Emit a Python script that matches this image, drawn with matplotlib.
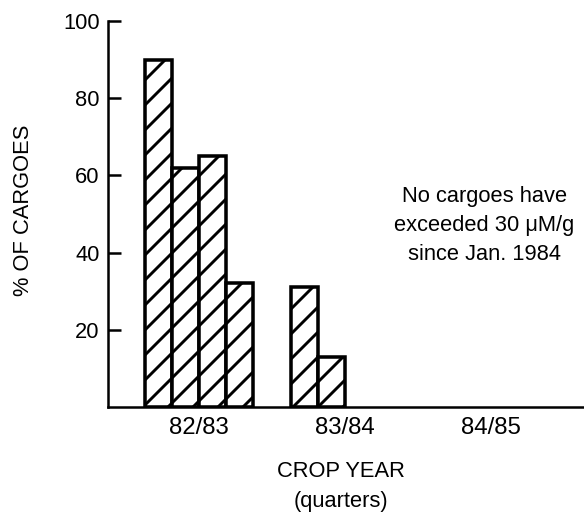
import matplotlib
matplotlib.use("Agg")
import matplotlib.pyplot as plt

# Data
years = ["82/83", "83/84", "84/85"]
quarter_values = [
    [90, 62, 65, 32],   # 82/83
    [31, 13],           # 83/84
    [],                 # 84/85
]
yticks = [20, 40, 60, 80, 100]
ylabel = "% OF CARGOES"
xlabel = "CROP YEAR\n(quarters)"
note = "No cargoes have\nexceeded 30 \u03bcM/g\nsince Jan. 1984"

year_spacing = 5.4

plt.rcParams['font.family'] = ['Liberation Sans', 'DejaVu Sans']
plt.rcParams['hatch.linewidth'] = 1.4

DPI = 150
fig = plt.figure(figsize=(584 / DPI, 515 / DPI), dpi=DPI)
ax = fig.add_axes([108 / 584, 1 - 407 / 515, 1 - 108 / 584, (407 - 21) / 515])

for i, vals in enumerate(quarter_values):
    xs = [i * year_spacing + q for q in range(len(vals))]
    if vals:
        ax.bar(xs, vals, width=1.0, facecolor='white', edgecolor='black',
               linewidth=1.7, hatch='//')

ax.set_xlim(-1.87, 15.76)
ax.set_ylim(0, 100)

ax.set_xticks([i * year_spacing + 1.5 for i in range(len(years))])
ax.set_xticklabels(years, fontsize=11.5)
ax.tick_params(axis='x', length=0, pad=5)

ax.set_yticks(yticks)
ax.set_yticklabels([str(v) for v in yticks], fontsize=10.5)
ax.tick_params(axis='y', direction='in', length=6, width=1.2, pad=4)

for s in ['top', 'right']:
    ax.spines[s].set_visible(False)
for s in ['left', 'bottom']:
    ax.spines[s].set_linewidth(1.2)

ax.set_ylabel(ylabel, fontsize=10.5)
ax.yaxis.set_label_coords(-0.155, 0.51)
ax.set_xlabel(xlabel, fontsize=10.5, linespacing=1.55)
ax.xaxis.set_label_coords(0.49, -0.14)
ax.xaxis.label.set_va('top')

ax.text(12.06, 47, note, ha='center', va='center', fontsize=10.5,
        linespacing=1.5)

fig.savefig("out.png", dpi=DPI)
